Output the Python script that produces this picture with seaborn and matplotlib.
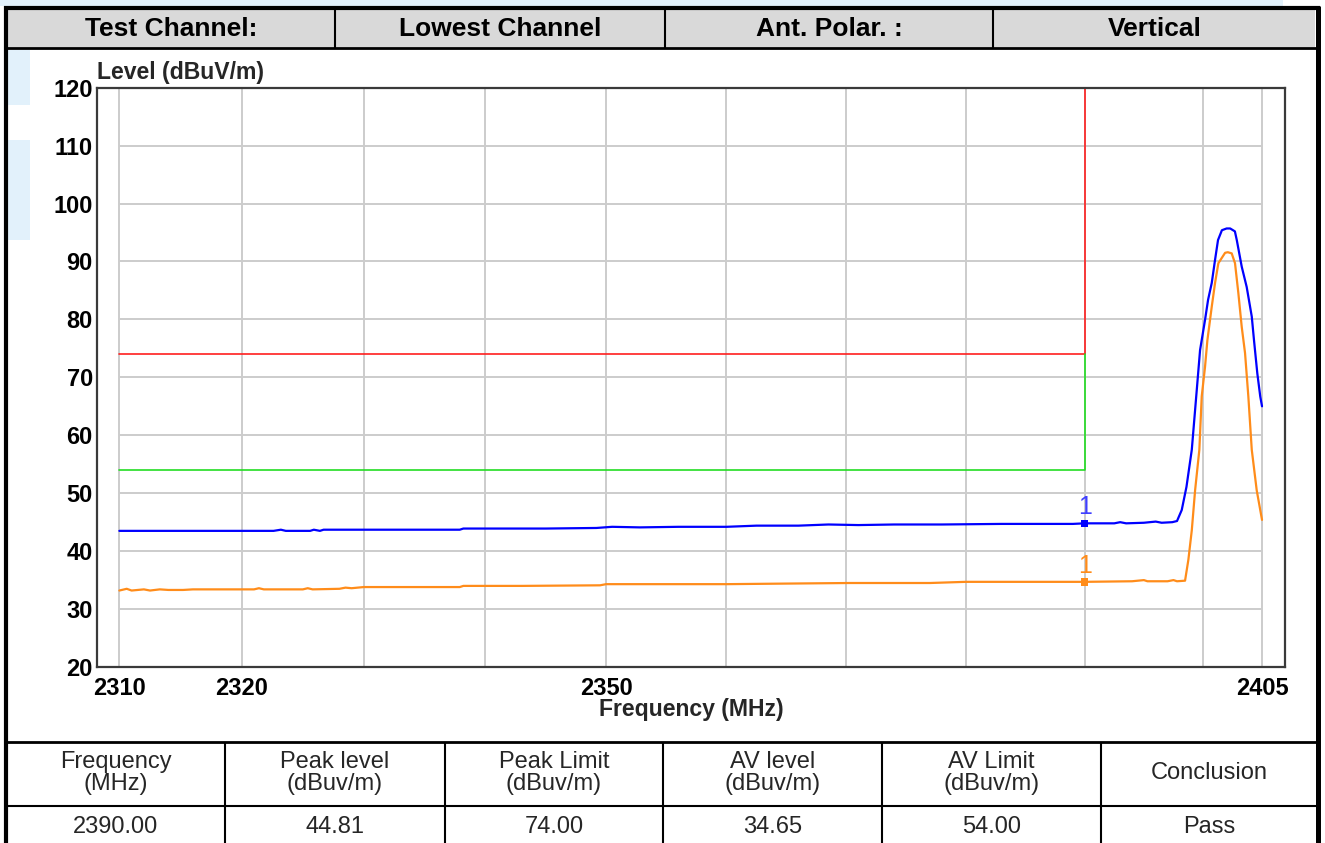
import numpy as np
import pandas as pd
import seaborn as sns
from matplotlib import pyplot as plt
from matplotlib.lines import Line2D
from matplotlib.patches import Rectangle
from matplotlib.ticker import NullLocator, NullFormatter

sns.set_style("white")
plt.rcParams['font.family'] = ['Liberation Sans', 'DejaVu Sans']

# Header / result table text.
header_cells = ['Test Channel:', 'Lowest Channel', 'Ant. Polar. :', 'Vertical']
result_cols = ['Frequency\n(MHz)', 'Peak level\n(dBuv/m)', 'Peak Limit\n(dBuv/m)',
               'AV level\n(dBuv/m)', 'AV Limit\n(dBuv/m)', 'Conclusion']
result_vals = ['2390.00', '44.81', '74.00', '34.65', '54.00', 'Pass']

# Peak trace (blue).
pk_freq = [2310.0, 2316.0, 2322.6, 2323.2, 2323.6, 2325.6, 2325.9, 2326.4, 2326.7, 2331.0,
           2337.9, 2338.2, 2345.0, 2349.2, 2350.5, 2352.8, 2356.0, 2360.0, 2362.5, 2366.0,
           2368.5, 2371.0, 2374.0, 2378.0, 2383.0, 2389.0, 2390.0, 2392.5, 2393.0, 2393.5,
           2395.0, 2396.0, 2396.5, 2397.4, 2397.8, 2398.2, 2398.6, 2399.05, 2399.47, 2399.75,
           2400.17, 2400.43, 2400.74, 2401.02, 2401.27, 2401.6, 2402.0, 2402.3, 2402.7, 2402.86,
           2403.28, 2403.7, 2404.13, 2404.32, 2404.6, 2404.85, 2405.0]
pk_level = [43.5, 43.5, 43.5, 43.7, 43.5, 43.5, 43.7, 43.5, 43.7, 43.7,
            43.7, 43.9, 43.9, 44.0, 44.2, 44.1, 44.2, 44.2, 44.4, 44.4,
            44.6, 44.5, 44.6, 44.6, 44.7, 44.7, 44.8, 44.8, 45.0, 44.8,
            44.9, 45.1, 44.9, 45.0, 45.2, 47.1, 51.1, 57.5, 67.8, 74.7,
            79.9, 83.4, 86.3, 90.3, 93.7, 95.4, 95.7, 95.7, 95.2, 93.7,
            89.1, 85.6, 80.5, 76.4, 70.7, 66.7, 65.0]

# Average trace (orange).
av_freq = [2310.0, 2310.6, 2311.0, 2312.0, 2312.5, 2313.3, 2314.0, 2315.2, 2316.0, 2321.0,
           2321.4, 2321.8, 2325.0, 2325.4, 2325.8, 2328.0, 2328.5, 2329.0, 2330.0, 2337.9,
           2338.2, 2343.0, 2349.5, 2350.0, 2360.0, 2365.0, 2370.3, 2377.0, 2380.0, 2390.0,
           2394.0, 2395.0, 2395.3, 2397.0, 2397.5, 2397.8, 2398.48, 2398.76, 2399.05, 2399.33,
           2399.69, 2399.89, 2400.17, 2400.37, 2400.74, 2401.02, 2401.3, 2401.87, 2402.1, 2402.43,
           2402.71, 2402.99, 2403.28, 2403.56, 2403.84, 2404.13, 2404.55, 2405.0]
av_level = [33.2, 33.5, 33.2, 33.4, 33.2, 33.4, 33.3, 33.3, 33.4, 33.4,
            33.6, 33.4, 33.4, 33.6, 33.4, 33.5, 33.7, 33.6, 33.8, 33.8,
            34.0, 34.0, 34.1, 34.3, 34.3, 34.4, 34.5, 34.5, 34.7, 34.7,
            34.8, 35.0, 34.8, 34.8, 35.0, 34.8, 34.9, 38.5, 43.6, 50.5,
            57.5, 66.7, 71.8, 76.4, 82.2, 86.3, 89.7, 91.5, 91.6, 91.4,
            89.7, 84.6, 78.7, 74.2, 66.7, 57.5, 50.5, 45.4]

# Limit lines.
limit_freq = [2310, 2390, 2390]
peak_limit = [74, 74, 120]
av_limit = [54, 54, 74]

# Marker 1.
mark_freq = 2390.00
mark_pk = 44.81
mark_av = 34.65

x_ticks = [2310, 2320, 2350, 2405]
x_grid = [2310, 2320, 2330, 2340, 2350, 2360, 2370, 2380, 2390, 2400, 2405]
y_ticks = list(range(20, 121, 10))

W, H = 1325, 843


def fx(x):
    return x / W


def fy(y):
    return 1 - y / H


def hline(fig, x0, x1, y, lw):
    fig.add_artist(Line2D([fx(x0), fx(x1)], [fy(y), fy(y)], transform=fig.transFigure,
                          color='black', lw=lw, solid_capstyle='butt'))


def vline(fig, x, y0, y1, lw):
    fig.add_artist(Line2D([fx(x), fx(x)], [fy(y0), fy(y1)], transform=fig.transFigure,
                          color='black', lw=lw, solid_capstyle='butt'))


fig = plt.figure(figsize=(W / 100, H / 100), dpi=100)
fig.patch.set_facecolor('white')

# Light blue watermark bits.
for x0, y0, x1, y1 in [(0, 0, 1283, 6), (8, 50, 30, 105), (8, 140, 30, 240)]:
    fig.add_artist(Rectangle((fx(x0), fy(y1)), fx(x1) - fx(x0), fy(y0) - fy(y1),
                             transform=fig.transFigure, color='#e2f1fb', lw=0, zorder=0))

# Header row.
fig.add_artist(Rectangle((fx(8), fy(47)), fx(1315) - fx(8), fy(10) - fy(47),
                         transform=fig.transFigure, color='#d9d9d9', lw=0))
hline(fig, 4, 1320, 8, 3)
hline(fig, 4, 1320, 48, 2)
for x in [335, 665, 993]:
    vline(fig, x, 9, 48, 1.5)
for (x0, x1), txt in zip([(8, 335), (335, 665), (665, 993), (993, 1316)], header_cells):
    fig.text(fx((x0 + x1) / 2), fy(29), txt, ha='center', va='center',
             fontsize=19, fontweight='bold', color='black')

# Outer border.
vline(fig, 6, 6, 843, 3)
vline(fig, 1317.5, 6, 843, 3.6)

# Result table.
hline(fig, 4, 1320, 742, 2)
hline(fig, 4, 1320, 806, 1.5)
col_edges = [6, 225, 445, 663, 882, 1101, 1317]
for x in col_edges[1:-1]:
    vline(fig, x, 742, 843, 1.5)
for i, txt in enumerate(result_cols):
    cx = fx((col_edges[i] + col_edges[i + 1]) / 2)
    fig.text(cx, fy(773), txt, ha='center', va='center', multialignment='center',
             fontsize=17, linespacing=0.95)
    fig.text(cx, fy(833), result_vals[i], ha='center', va='baseline', fontsize=17)

# Spectrum plot.
ax = fig.add_axes([fx(97), fy(667), fx(1285) - fx(97), fy(87.7) - fy(667)])
ax.set_xscale('log')
ax.set_xlim(2308.18, 2406.95)
ax.set_ylim(20, 120)

ax.vlines(x_grid, 20, 120, color='#cccccc', lw=1.4, zorder=0)
ax.hlines(y_ticks, 2310, 2405, color='#cccccc', lw=1.4, zorder=0)

pk_df = pd.DataFrame({'freq': pk_freq, 'level': pk_level})
av_df = pd.DataFrame({'freq': av_freq, 'level': av_level})
lim_df = pd.DataFrame({'freq': limit_freq, 'peak': peak_limit, 'av': av_limit})

sns.lineplot(data=lim_df, x='freq', y='peak', color='#ff1f1f', lw=1.2,
             estimator=None, sort=False, ax=ax)
sns.lineplot(data=lim_df, x='freq', y='av', color='#22dd22', lw=1.2,
             estimator=None, sort=False, ax=ax)
sns.lineplot(data=pk_df, x='freq', y='level', color='#0000ff', lw=1.6,
             estimator=None, sort=False, ax=ax)
sns.lineplot(data=av_df, x='freq', y='level', color='#ff8c1a', lw=1.6,
             estimator=None, sort=False, ax=ax)

sns.scatterplot(x=[mark_freq], y=[mark_pk], marker='s', s=28, color='#0000ff',
                edgecolor='none', ax=ax, zorder=5)
sns.scatterplot(x=[mark_freq], y=[mark_av], marker='s', s=28, color='#ff8c1a',
                edgecolor='none', ax=ax, zorder=5)
ax.annotate('1', (mark_freq, mark_pk), xytext=(0, 3), textcoords='offset points',
            ha='center', va='bottom', fontsize=18, color='#4040ff')
ax.annotate('1', (mark_freq, mark_av), xytext=(0, 3), textcoords='offset points',
            ha='center', va='bottom', fontsize=18, color='#ff8c1a')

ax.set_xticks(x_ticks, [str(t) for t in x_ticks], fontsize=17, fontweight='bold')
ax.xaxis.set_minor_locator(NullLocator())
ax.xaxis.set_minor_formatter(NullFormatter())
ax.set_yticks(y_ticks, [str(t) for t in y_ticks], fontsize=17, fontweight='bold')
ax.tick_params(axis='both', length=0, colors='black')
ax.tick_params(axis='x', pad=7)
ax.tick_params(axis='y', pad=3)

ax.set_xlabel('Frequency (MHz)', fontsize=16.6, fontweight='bold', va='top')
ax.xaxis.set_label_coords(0.5, -0.0535)
ax.set_ylabel('Level (dBuV/m)', fontsize=16.6, fontweight='bold', rotation=0,
              ha='left', va='bottom')
ax.yaxis.set_label_coords(0, 1.006)

for side in ['left', 'right', 'top', 'bottom']:
    ax.spines[side].set_visible(True)
    ax.spines[side].set_color('#3a3a3a')
    ax.spines[side].set_linewidth(1.6)

fig.savefig('out.png', dpi=100)
